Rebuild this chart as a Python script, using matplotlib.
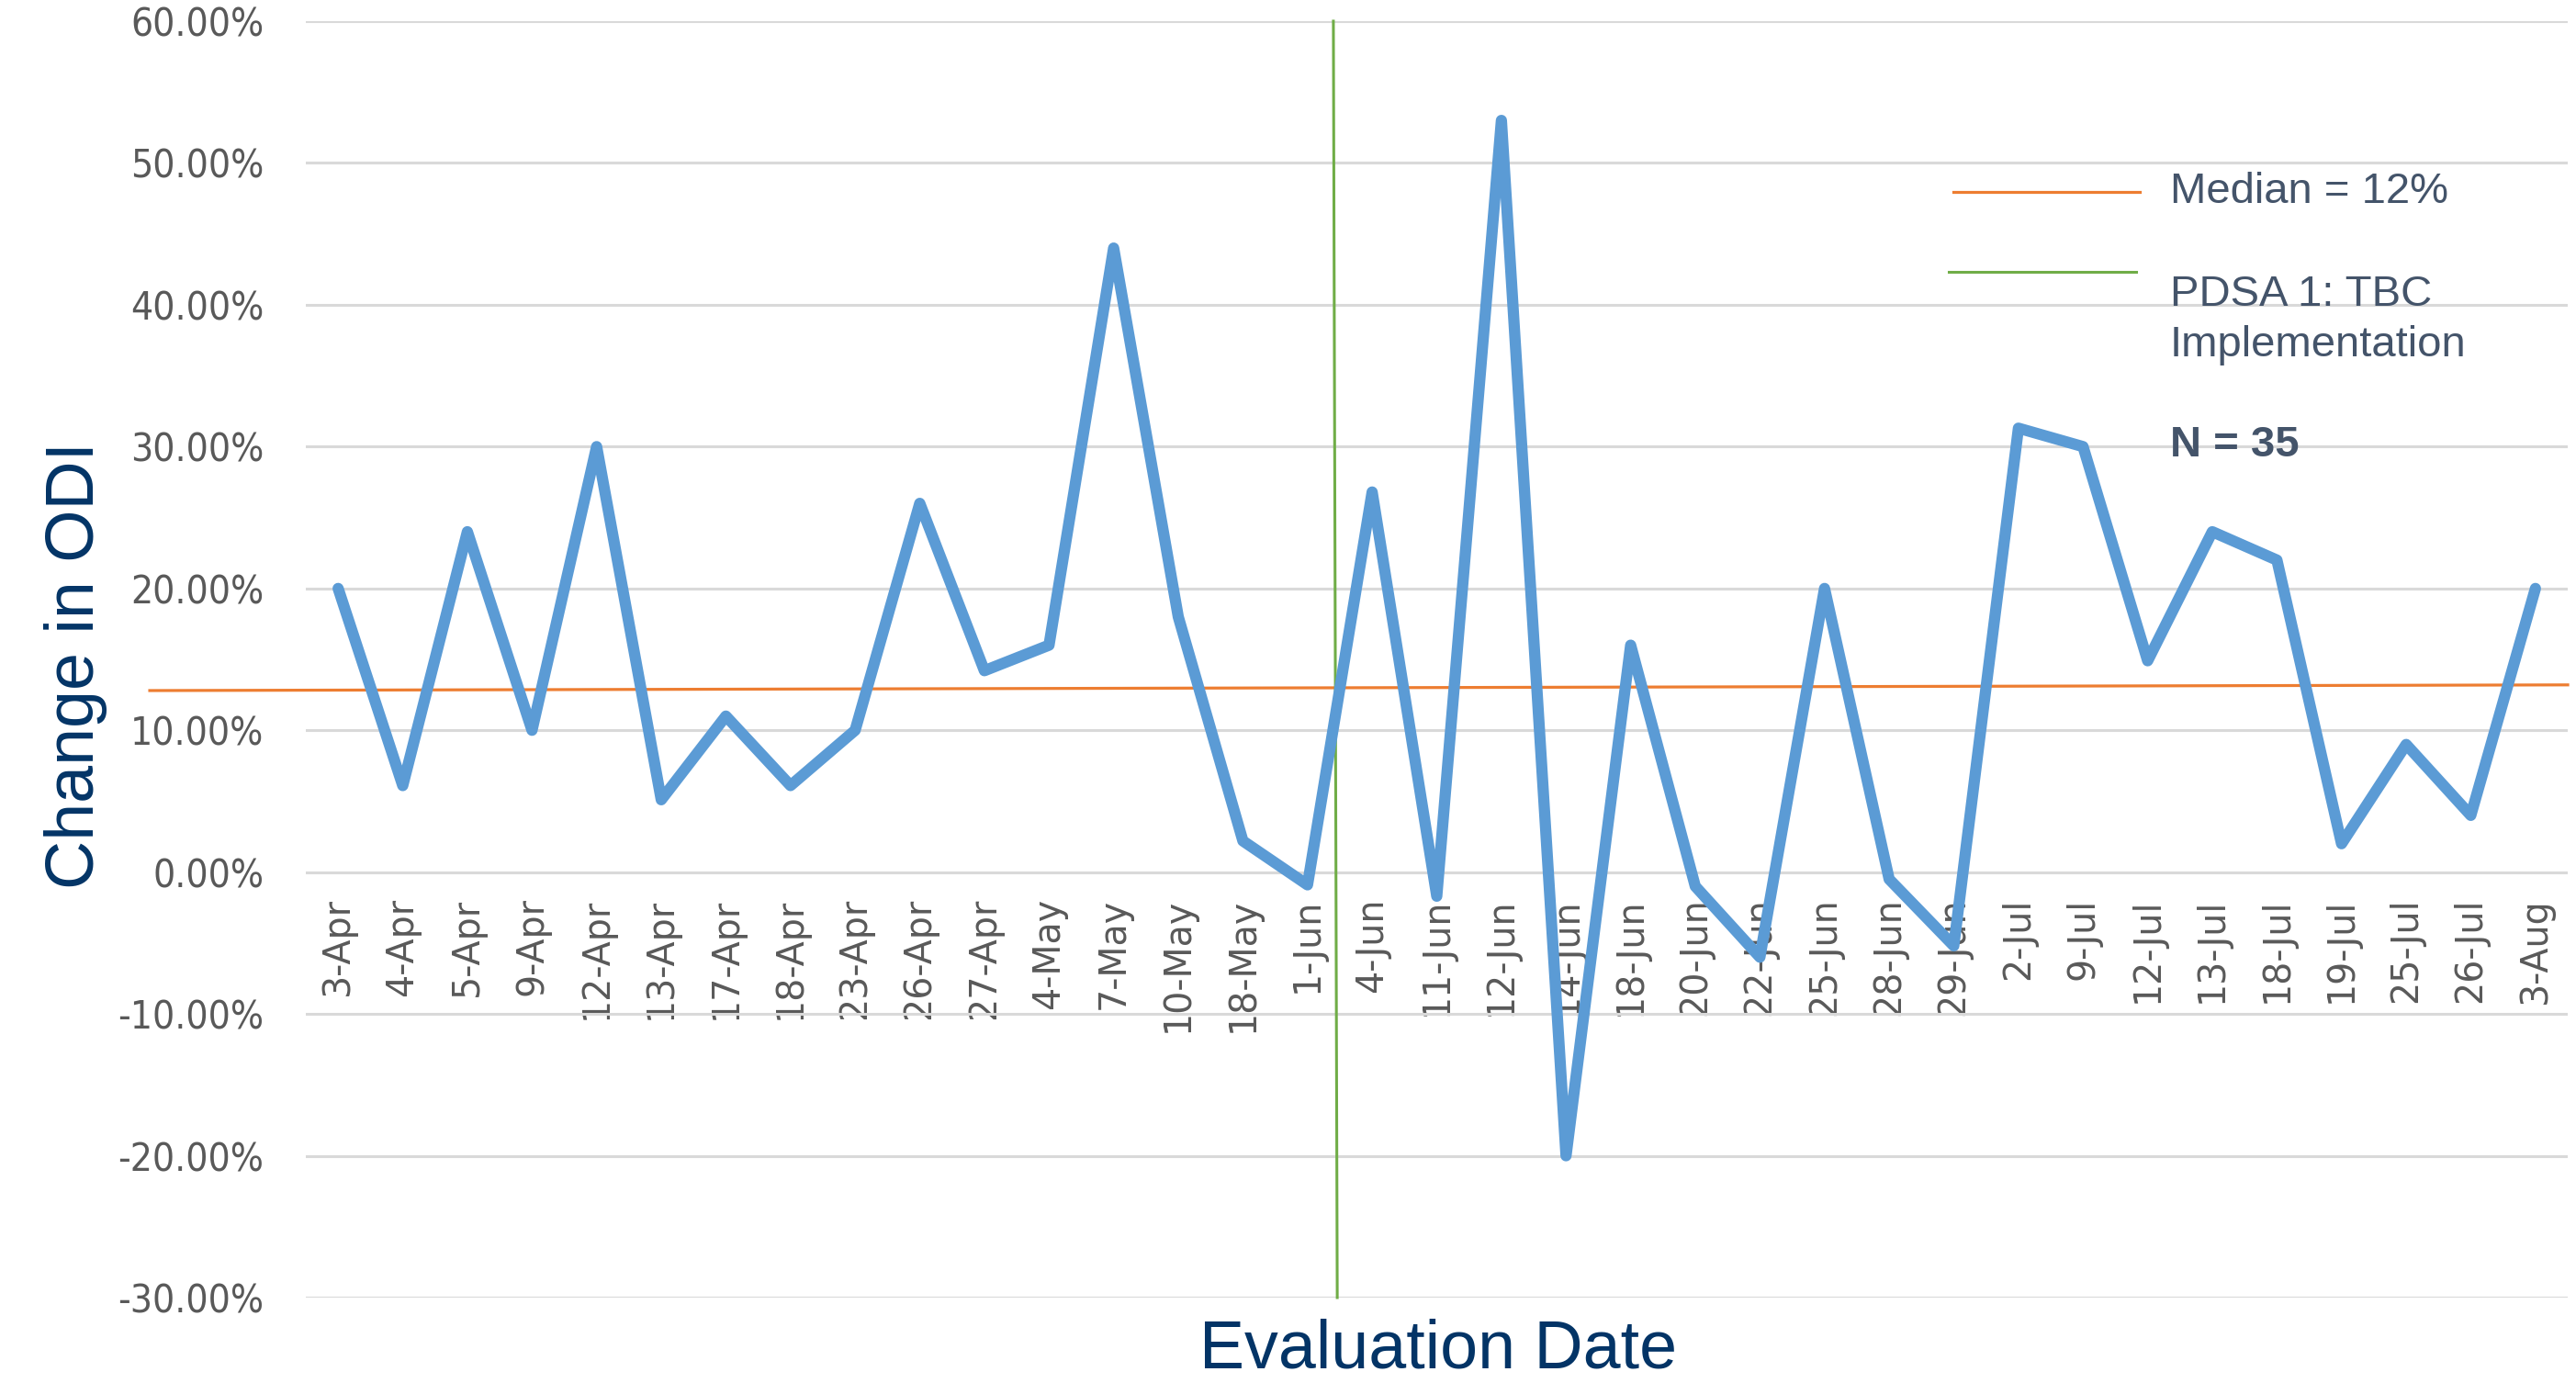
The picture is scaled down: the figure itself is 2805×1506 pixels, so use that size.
import numpy as np
import matplotlib
matplotlib.use("Agg")
import matplotlib.pyplot as plt
from matplotlib.lines import Line2D
from matplotlib.ticker import FuncFormatter

# ---- data ----
dates = ["3-Apr", "4-Apr", "5-Apr", "9-Apr", "12-Apr", "13-Apr", "17-Apr", "18-Apr",
         "23-Apr", "26-Apr", "27-Apr", "4-May", "7-May", "10-May", "18-May", "1-Jun",
         "4-Jun", "11-Jun", "12-Jun", "14-Jun", "18-Jun", "20-Jun", "22-Jun", "25-Jun",
         "28-Jun", "29-Jun", "2-Jul", "9-Jul", "12-Jul", "13-Jul", "18-Jul", "19-Jul",
         "25-Jul", "26-Jul", "3-Aug"]
change_odi = [20.0, 6.1, 24.0, 10.0, 30.0, 5.1, 11.0, 6.1, 10.0, 26.0, 14.2, 16.0,
              44.0, 18.0, 2.2, -0.9, 26.8, -1.7, 53.0, -20.0, 16.0, -1.0, -6.0, 20.0,
              -0.5, -5.2, 31.3, 30.0, 14.9, 24.0, 22.0, 2.0, 9.0, 4.0, 20.0]
median_y = [12.8, 13.2]          # median reference line (drawn slightly tilted, as in source)
pdsa_x = [15.40, 15.46]          # PDSA 1 marker position (category units)
pdsa_y = [60.0, -30.0]
y_ticks = [-30, -20, -10, 0, 10, 20, 30, 40, 50, 60]

W, H = 2805, 1506
fig = plt.figure(figsize=(W / 100, H / 100), dpi=100)
fig.patch.set_facecolor("white")

L, R, T, B = 333, 2796, 23, 1413
ax = fig.add_axes([L / W, 1 - B / H, (R - L) / W, (B - T) / H])

x = np.arange(len(dates))
ax.plot(x, change_odi, color="#5B9BD5", lw=8.8, solid_joinstyle="round",
        solid_capstyle="round", zorder=3)

# median line (extends a bit left of the plot area)
ax.plot([-0.069, 1.0], median_y, color="#ED7D31", lw=2.3,
        transform=ax.get_yaxis_transform(), clip_on=False, zorder=2)
# PDSA line
ax.plot(pdsa_x, pdsa_y, color="#70AD47", lw=2.2, zorder=2, clip_on=False)

ax.set_xlim(-0.5, len(dates) - 0.5)
ax.set_ylim(-30, 60)
ax.set_yticks(y_ticks)
ax.yaxis.set_major_formatter(FuncFormatter(lambda v, p: f"{v:.2f}%"))
ax.set_xticks(x)
ax.set_xticklabels(dates)

ax.grid(axis="y", color="#D9D9D9", lw=2.2)
ax.grid(axis="x", visible=False)
ax.set_axisbelow(True)
for s in ax.spines.values():
    s.set_visible(False)
ax.spines["bottom"].set_position(("data", 0))

ax.tick_params(axis="x", length=0, pad=20, labelcolor="#595959", labelrotation=90)
ax.tick_params(axis="y", length=0, pad=33, labelcolor="#595959")
for lab in ax.get_xticklabels():
    lab.set_fontfamily("DejaVu Sans")
    lab.set_fontsize(28.5)
for lab in ax.get_yticklabels():
    lab.set_fontfamily("DejaVu Sans")
    lab.set_fontstretch("condensed")
    lab.set_fontsize(30.5)

navy = "#033466"
fig.text(102 / W, 1 - 724.5 / H, "Change in ODI", rotation=90, rotation_mode="anchor",
         ha="center", va="baseline", fontsize=53, color=navy, family="Liberation Sans")
fig.text(1566 / W, 1 - 1490 / H, "Evaluation Date", ha="center", va="baseline",
         fontsize=53, color=navy, family="Liberation Sans")

# legend-like annotations
lc = "#44546A"
fig.add_artist(Line2D([2127 / W, 2330 / W], [1 - 209 / H, 1 - 209 / H],
                      color="#ED7D31", lw=2.3, transform=fig.transFigure))
fig.add_artist(Line2D([2122 / W, 2326 / W], [1 - 296 / H, 1 - 296 / H],
                      color="#70AD47", lw=2.2, transform=fig.transFigure))
fig.text(2363 / W, 1 - 221 / H, "Median = 12%", ha="left", va="baseline",
         fontsize=34, color=lc, family="Liberation Sans")
fig.text(2363 / W, 1 - 333 / H, "PDSA 1: TBC", ha="left", va="baseline",
         fontsize=34, color=lc, family="Liberation Sans")
fig.text(2363 / W, 1 - 388 / H, "Implementation", ha="left", va="baseline",
         fontsize=34, color=lc, family="Liberation Sans")
fig.text(2363 / W, 1 - 497 / H, "N = 35", ha="left", va="baseline",
         fontsize=34, color=lc, family="Liberation Sans", fontweight="bold")

fig.savefig("out.png", dpi=100, facecolor="white")
